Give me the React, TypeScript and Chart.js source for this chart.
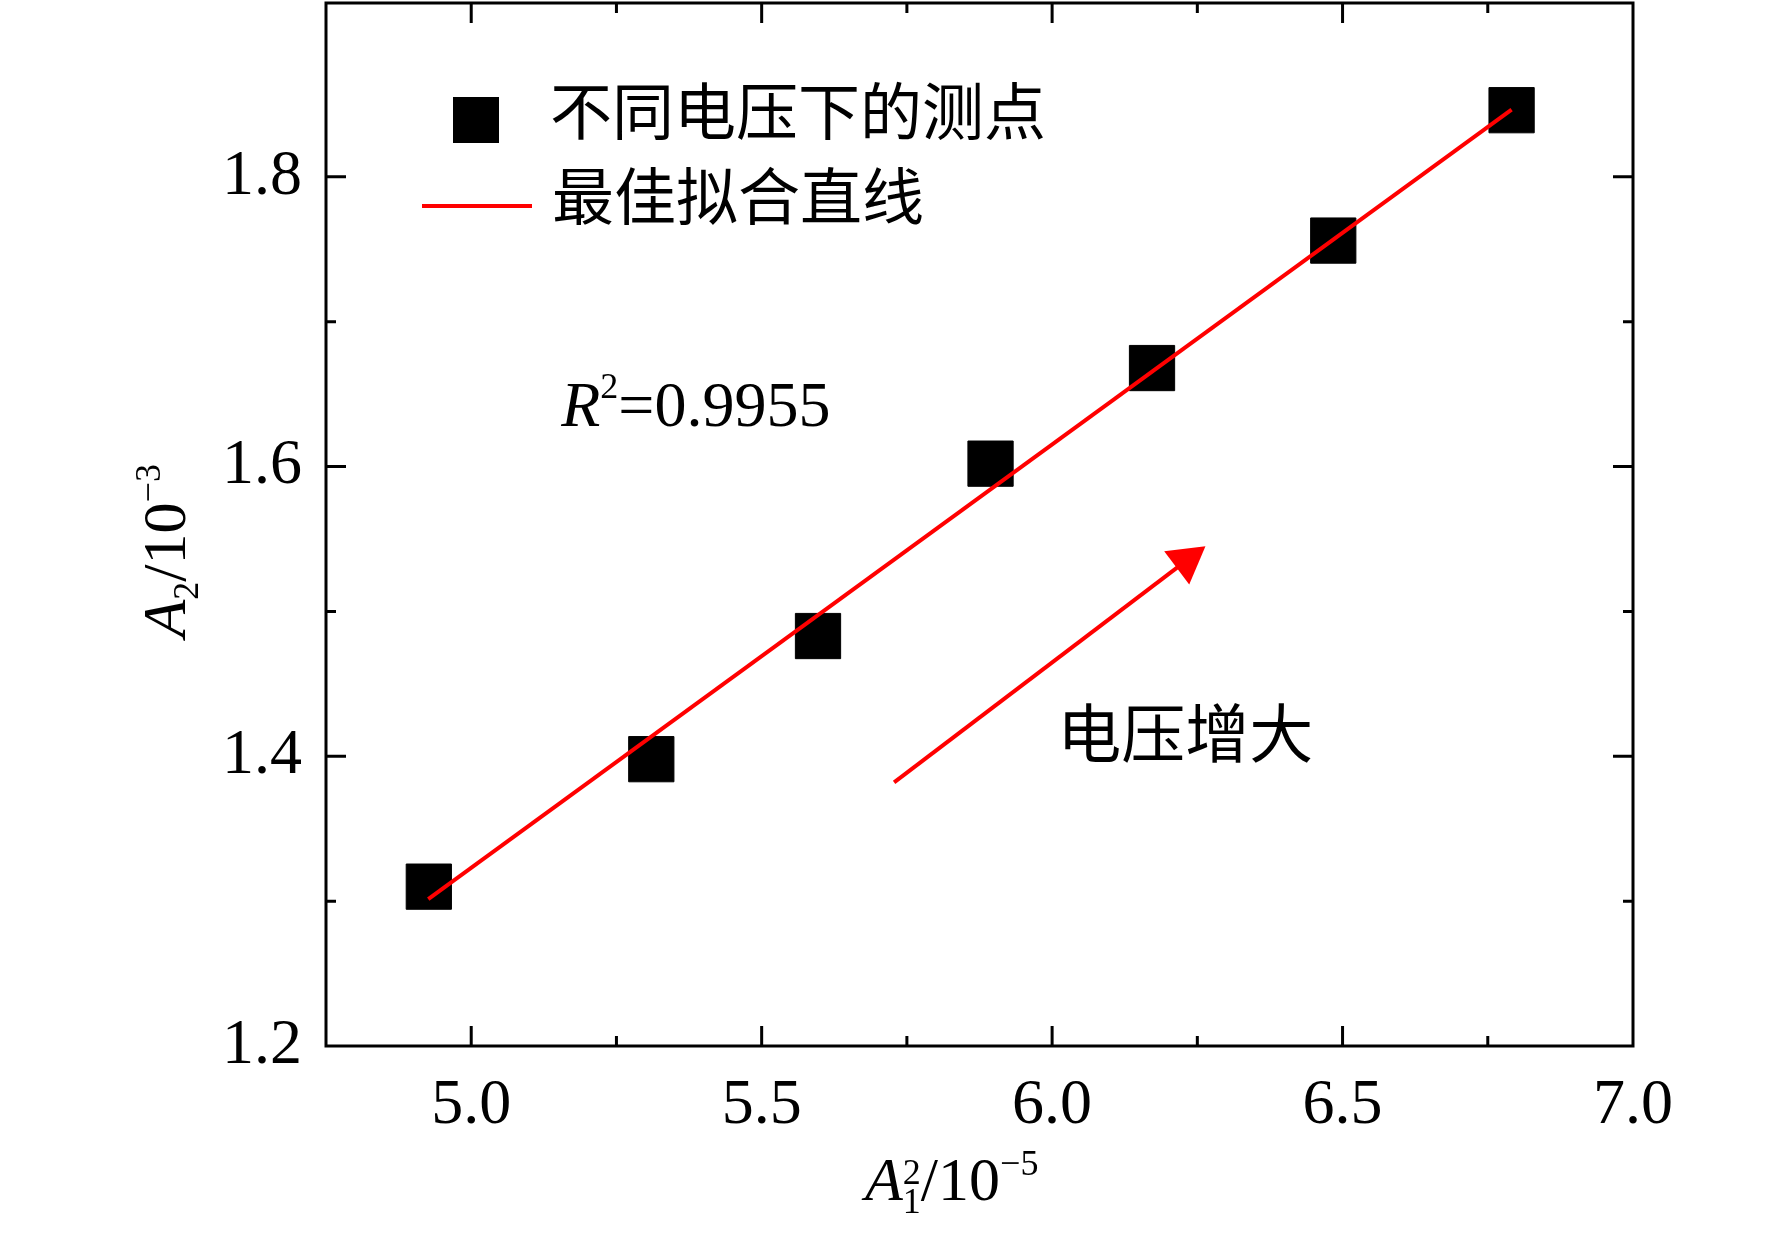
import { useEffect, useRef } from 'react';
import { Chart, registerables } from 'chart.js';

Chart.register(...registerables);

// measured points (A1^2 / 1e-5 vs A2 / 1e-3)
const measuredX = [4.927, 5.31, 5.597, 5.894, 6.172, 6.484, 6.791];
const measuredY = [1.31, 1.398, 1.483, 1.602, 1.668, 1.756, 1.846];

// best fit line end points
const fitX = [4.926, 6.791];
const fitY = [1.3014, 1.8464];

// "voltage increases" arrow: tail and head
const arrowX = [5.728, 6.231];
const arrowY = [1.382, 1.535];

const xRange = [4.75, 7.0];
const yRange = [1.2, 1.92];
const xMajorStep = 0.5;
const xMinorStep = 0.25;
const yMajorStep = 0.2;
const yMinorStep = 0.1;

const legendLabels = ['不同电压下的测点', '最佳拟合直线'];
const r2Text = '=0.9955';
const arrowText = '电压增大';

const SERIF = '"Liberation Serif", "Times New Roman", serif';
const CJK = '"Noto Sans CJK SC", sans-serif';

const isMultiple = (v: number, step: number) =>
  Math.abs(v / step - Math.round(v / step)) < 1e-6;

type Run = { text: string; font: string; dy?: number; over?: { text: string; font: string; dy: number } };

function drawRuns(ctx: CanvasRenderingContext2D, runs: Run[], x: number, y: number) {
  let cx = x;
  for (const r of runs) {
    ctx.font = r.font;
    ctx.fillText(r.text, cx, y + (r.dy ?? 0));
    let w = ctx.measureText(r.text).width;
    if (r.over) {
      ctx.font = r.over.font;
      ctx.fillText(r.over.text, cx, y + r.over.dy);
      w = Math.max(w, ctx.measureText(r.over.text).width);
    }
    cx += w;
  }
}

const zeroPadding = (scale: any) => {
  scale.paddingTop = 0;
  scale.paddingBottom = 0;
  scale.paddingLeft = 0;
  scale.paddingRight = 0;
};

const framePlugin = {
  id: 'frameAndNotes',
  afterDraw(chart: any) {
    const { ctx, chartArea: a, scales } = chart;
    const xs = scales.x;
    const ys = scales.y;
    ctx.save();

    // frame
    ctx.strokeStyle = '#000';
    ctx.lineWidth = 3;
    ctx.strokeRect(a.left, a.top, a.right - a.left, a.bottom - a.top);

    // inward ticks on all four sides
    ctx.beginPath();
    xs.ticks.forEach((t: any) => {
      if (t.value <= xs.min + 1e-9 || t.value >= xs.max - 1e-9) return;
      const px = xs.getPixelForValue(t.value);
      const len = isMultiple(t.value, xMajorStep) ? 20 : 10;
      ctx.moveTo(px, a.bottom);
      ctx.lineTo(px, a.bottom - len);
      ctx.moveTo(px, a.top);
      ctx.lineTo(px, a.top + len);
    });
    ys.ticks.forEach((t: any) => {
      if (t.value <= ys.min + 1e-9 || t.value >= ys.max - 1e-9) return;
      const py = ys.getPixelForValue(t.value);
      const len = isMultiple(t.value, yMajorStep) ? 20 : 10;
      ctx.moveTo(a.left, py);
      ctx.lineTo(a.left + len, py);
      ctx.moveTo(a.right, py);
      ctx.lineTo(a.right - len, py);
    });
    ctx.stroke();

    ctx.fillStyle = '#000';
    ctx.textAlign = 'left';
    ctx.textBaseline = 'alphabetic';

    // legend
    const sq = 46;
    ctx.fillRect(a.left + 150 - sq / 2, a.top + 117 - sq / 2, sq, sq);
    ctx.strokeStyle = '#ff0000';
    ctx.lineWidth = 4;
    ctx.beginPath();
    ctx.moveTo(a.left + 96, a.top + 203);
    ctx.lineTo(a.left + 206, a.top + 203);
    ctx.stroke();
    ctx.font = `62px ${CJK}`;
    ctx.fillText(legendLabels[0], a.left + 224, a.top + 132);
    ctx.fillText(legendLabels[1], a.left + 226, a.top + 217);

    // R^2 note
    drawRuns(
      ctx,
      [
        { text: 'R', font: `italic 64px ${SERIF}` },
        { text: '2', font: `36px ${SERIF}`, dy: -28 },
        { text: r2Text, font: `64px ${SERIF}` },
      ],
      xs.getPixelForValue(5.155),
      ys.getPixelForValue(1.628)
    );

    // arrow note
    ctx.font = `64px ${CJK}`;
    ctx.fillText(arrowText, xs.getPixelForValue(6.009), ys.getPixelForValue(1.416) + 24);

    // x title: A1^2 / 10^-5
    drawRuns(
      ctx,
      [
        { text: 'A', font: `italic 62px ${SERIF}` },
        { text: '1', font: `36px ${SERIF}`, dy: 13, over: { text: '2', font: `36px ${SERIF}`, dy: -16 } },
        { text: '/10', font: `62px ${SERIF}` },
        { text: '\u22125', font: `36px ${SERIF}`, dy: -25 },
      ],
      a.left + 539,
      a.bottom + 154
    );

    // y title: A2 / 10^-3 (rotated)
    ctx.translate(a.left - 141, (a.top + a.bottom) / 2 + 113);
    ctx.rotate(-Math.PI / 2);
    drawRuns(
      ctx,
      [
        { text: 'A', font: `italic 62px ${SERIF}` },
        { text: '2', font: `36px ${SERIF}`, dy: 13 },
        { text: '/10', font: `62px ${SERIF}` },
        { text: '\u22123', font: `36px ${SERIF}`, dy: -25 },
      ],
      0,
      0
    );
    ctx.restore();
  },
};

export default function App() {
  const canvasRef = useRef<HTMLCanvasElement>(null);
  const chartRef = useRef<Chart | null>(null);

  useEffect(() => {
    if (!canvasRef.current) return;
    if (chartRef.current) chartRef.current.destroy();

    const ctx = canvasRef.current.getContext('2d');
    if (!ctx) return;

    chartRef.current = new Chart(ctx, {
      type: 'scatter',
      data: {
        datasets: [
          {
            type: 'line',
            label: legendLabels[1],
            data: fitX.map((x, i) => ({ x, y: fitY[i] })),
            borderColor: '#ff0000',
            borderWidth: 4,
            pointRadius: 0,
            showLine: true,
            order: 0,
          },
          {
            type: 'line',
            label: arrowText,
            data: arrowX.map((x, i) => ({ x, y: arrowY[i] })),
            borderColor: '#ff0000',
            backgroundColor: '#ff0000',
            borderWidth: 4,
            pointStyle: 'triangle',
            pointRadius: [0, 24],
            pointBorderWidth: 0,
            pointRotation: [0, 53],
            showLine: true,
            order: 0,
          },
          {
            type: 'scatter',
            label: legendLabels[0],
            data: measuredX.map((x, i) => ({ x, y: measuredY[i] })),
            pointStyle: 'rect',
            pointRadius: 32,
            backgroundColor: '#000',
            borderColor: '#000',
            borderWidth: 1,
            order: 1,
          },
        ],
      },
      options: {
        responsive: true,
        maintainAspectRatio: false,
        animation: false,
        events: [],
        layout: { autoPadding: false, padding: { top: 3, right: 139, left: 0, bottom: 0 } },
        plugins: {
          legend: { display: false },
          tooltip: { enabled: false },
        },
        scales: {
          x: {
            type: 'linear',
            min: xRange[0],
            max: xRange[1],
            grid: { display: false, drawTicks: false },
            border: { display: false },
            ticks: {
              stepSize: xMinorStep,
              autoSkip: false,
              maxRotation: 0,
              padding: 22,
              color: '#000',
              font: { family: SERIF, size: 64 },
              callback: (v: any) => (isMultiple(Number(v), xMajorStep) ? Number(v).toFixed(1) : ''),
            },
            afterFit: (scale: any) => {
              scale.height = 187;
              zeroPadding(scale);
            },
          },
          y: {
            type: 'linear',
            min: yRange[0],
            max: yRange[1],
            grid: { display: false, drawTicks: false },
            border: { display: false },
            afterBuildTicks: (scale: any) => {
              scale.ticks = scale.ticks.filter((t: any) => isMultiple(t.value, yMinorStep));
            },
            ticks: {
              stepSize: yMinorStep,
              autoSkip: false,
              padding: 24,
              color: '#000',
              font: { family: SERIF, size: 64 },
              callback: (v: any) => (isMultiple(Number(v), yMajorStep) ? Number(v).toFixed(1) : ''),
            },
            afterFit: (scale: any) => {
              scale.width = 326;
              zeroPadding(scale);
            },
          },
        },
      },
      plugins: [framePlugin],
    } as any);

    return () => {
      if (chartRef.current) {
        chartRef.current.destroy();
        chartRef.current = null;
      }
    };
  }, []);

  return (
    <div style={{ position: 'absolute', left: 0, top: 0, width: 1772, height: 1233, background: '#fff' }}>
      <canvas ref={canvasRef} />
    </div>
  );
}
